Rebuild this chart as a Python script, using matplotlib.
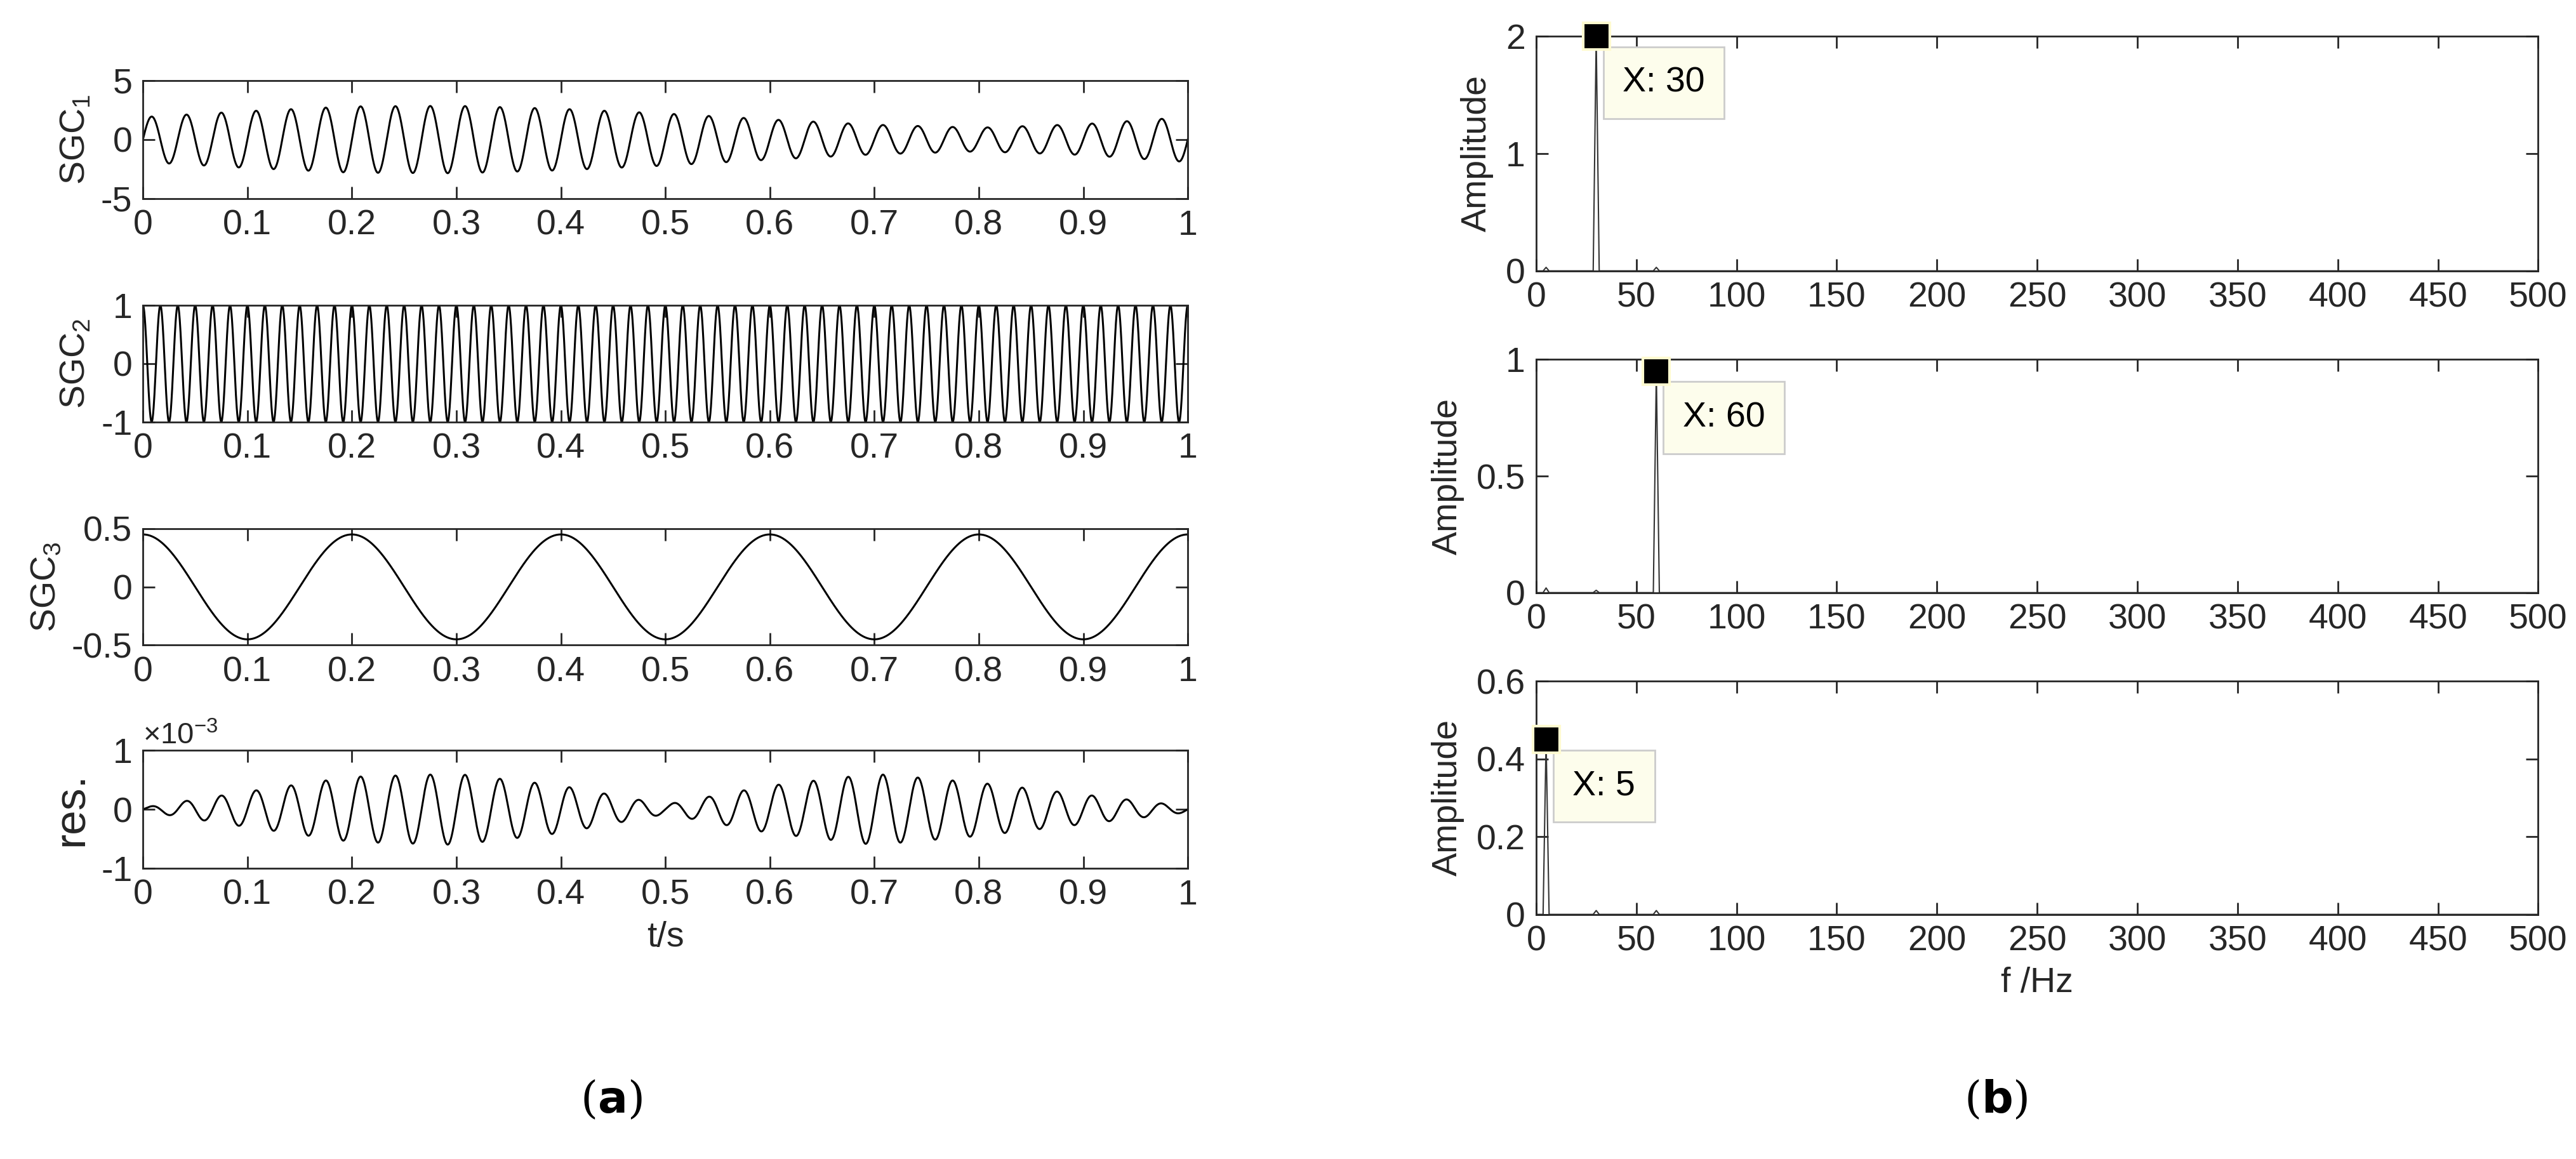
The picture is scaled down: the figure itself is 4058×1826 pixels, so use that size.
import numpy as np
import matplotlib.pyplot as plt

plt.rcParams['font.family'] = ['Liberation Sans', 'DejaVu Sans']
plt.rcParams['mathtext.fontset'] = 'custom'
plt.rcParams['mathtext.rm'] = 'Liberation Sans'

# envelope samples read at t = 0, 0.1, ..., 1
env_t = np.linspace(0, 1, 11)
sgc1_env = [1.9, 2.4, 2.8, 2.85, 2.6, 2.2, 1.7, 1.25, 1.0, 1.3, 1.9]
sgc1_freq = 30
sgc2_amp = 1.0
sgc2_freq = 60
sgc3_amp = 0.45
sgc3_freq = 5
res_env = [0.03, 0.3, 0.55, 0.6, 0.4, 0.08, 0.4, 0.6, 0.45, 0.25, 0.05]
res_freq = 30

# spectrum peaks: (freq, amplitude)
spec1 = [(5, 0.03), (30, 2.0), (60, 0.03)]
spec2 = [(5, 0.02), (30, 0.01), (60, 0.95)]
spec3 = [(5, 0.45), (30, 0.01), (60, 0.01)]
tips = [30, 60, 5]

t = np.linspace(0, 1, 4000)
sgc1 = np.interp(t, env_t, sgc1_env) * np.sin(2 * np.pi * sgc1_freq * t)
sgc2 = sgc2_amp * np.cos(2 * np.pi * sgc2_freq * t)
sgc3 = sgc3_amp * np.cos(2 * np.pi * sgc3_freq * t)
res = np.interp(t, env_t, res_env) * 1e-3 * np.sin(2 * np.pi * res_freq * t)

FS = 40
TC = '#262626'
fig = plt.figure(figsize=(40.58, 18.26), dpi=100)

def style(ax):
    ax.tick_params(direction='in', length=14, width=2, labelsize=FS, top=True, right=True,
                   pad=12, colors=TC)
    for s in ax.spines.values():
        s.set_linewidth(2)
        s.set_color(TC)

left = [(49, 121), (186, 257), (322, 393), (457, 529)]
H = 706.0
W = 1568.0
sigs = [sgc1, sgc2, sgc3, res]
ylims = [(-5, 5), (-1, 1), (-0.5, 0.5), (-1, 1)]
yt = [[-5, 0, 5], [-1, 0, 1], [-0.5, 0, 0.5], [-1, 0, 1]]
ylab = ['SGC$_1$', 'SGC$_2$', 'SGC$_3$', 'res.']
for i, (y0, y1) in enumerate(left):
    ax = fig.add_axes([87 / W, 1 - y1 / H, (723 - 87) / W, (y1 - y0) / H])
    y = sigs[i] * (1e3 if i == 3 else 1)
    ax.plot(t, y, color='black', lw=2.2)
    ax.set_xlim(0, 1)
    ax.set_ylim(*ylims[i])
    ax.set_yticks(yt[i])
    ax.set_yticklabels([('%g' % v) for v in yt[i]])
    ax.set_xticks(np.round(np.arange(0, 1.01, 0.1), 1))
    ax.set_xticklabels(['0'] + ['%.1f' % v for v in np.arange(0.1, 0.95, 0.1)] + ['1'])
    style(ax)
    ax.set_ylabel(ylab[i], fontsize=FS if i < 3 else 50, labelpad=10, color=TC)
    if i == 3:
        ax.text(0, 1.0, r'$\times10^{-3}$', transform=ax.transAxes, fontsize=34, va='bottom', color=TC)
        ax.set_xlabel('t/s', fontsize=FS, labelpad=10, color=TC)

right = [(22, 165), (219, 361), (415, 557)]
specs = [spec1, spec2, spec3]
rylims = [(0, 2), (0, 1), (0, 0.6)]
ryt = [[0, 1, 2], [0, 0.5, 1], [0, 0.2, 0.4, 0.6]]
for i, (y0, y1) in enumerate(right):
    ax = fig.add_axes([935 / W, 1 - y1 / H, (1545 - 935) / W, (y1 - y0) / H])
    fx = [0]
    fy = [0]
    for f, a in specs[i]:
        fx += [f - 1.5, f, f + 1.5]
        fy += [0, a, 0]
    fx.append(500)
    fy.append(0)
    ax.plot(fx, fy, color='#333333', lw=1.5)
    ax.set_xlim(0, 500)
    ax.set_ylim(*rylims[i])
    ax.set_yticks(ryt[i])
    ax.set_yticklabels([('%g' % v) for v in ryt[i]])
    ax.set_xticks(np.arange(0, 501, 50))
    style(ax)
    ax.set_ylabel('Amplitude', fontsize=FS, labelpad=14, color=TC)
    pk = tips[i]
    amp = dict(specs[i])[pk]
    ax.plot([pk], [amp], 's', ms=30, mfc='black', mec='#fffbd0', mew=3, clip_on=False, zorder=5)
    ax.annotate('X: %d' % pk, xy=(pk, amp), xytext=(30, -34), textcoords='offset points',
                fontsize=FS, va='top', ha='left',
                bbox=dict(boxstyle='square,pad=0.55', fc='#fdfdec', ec='#cccccc', lw=2))
    if i == 2:
        ax.set_xlabel('f /Hz', fontsize=FS, labelpad=10, color=TC)

fig.text(372 / W, 1 - 670 / H, r'($\mathbf{a}$)', fontsize=50, family='DejaVu Serif', ha='center', va='center')
fig.text(1215 / W, 1 - 670 / H, r'($\mathbf{b}$)', fontsize=50, family='DejaVu Serif', ha='center', va='center')

fig.savefig('out.png', dpi=100)
